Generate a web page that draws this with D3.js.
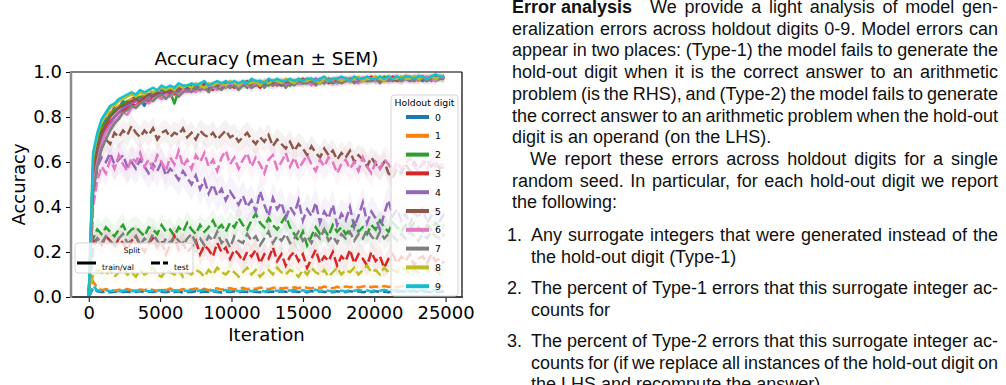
<!DOCTYPE html>
<head>
    <meta charset="utf-8">
    <script src="https://d3js.org/d3.v7.min.js"></script>
    <style>
        body { margin: 0; background: #fff; }
        svg { display: block; }
    </style>
</head>

<body>
    <svg width="1006" height="385"></svg>

    <script>
        // ---- data: accuracy logged every 300 iterations, one array per holdout digit ----
        const digits = ["0", "1", "2", "3", "4", "5", "6", "7", "8", "9"]
        const colors = ["#1f77b4", "#ff7f0e", "#2ca02c", "#d62728", "#9467bd",
            "#8c564b", "#e377c2", "#7f7f7f", "#bcbd22", "#17becf"]
        const logEvery = 300
        const xTicks = [0, 5000, 10000, 15000, 20000, 25000]
        const yTicks = [0, 0.2, 0.4, 0.6, 0.8, 1.0]

        const train0 = [0.00,0.58,0.69,0.75,0.79,0.81,0.84,0.84,0.87,0.86,0.88,0.89,
            0.88,0.85,0.89,0.91,0.90,0.92,0.91,0.92,0.93,0.91,0.93,0.92,
            0.94,0.93,0.93,0.94,0.92,0.94,0.95,0.93,0.94,0.95,0.94,0.95,
            0.94,0.95,0.93,0.95,0.96,0.94,0.95,0.96,0.95,0.94,0.96,0.95,
            0.96,0.95,0.96,0.95,0.96,0.97,0.95,0.96,0.96,0.97,0.95,0.96,
            0.97,0.96,0.97,0.96,0.97,0.96,0.97,0.96,0.97,0.97,0.96,0.97,
            0.98,0.96,0.97,0.97,0.98,0.97,0.96,0.97,0.98,0.97,0.98,0.97]
        const train1 = [0.00,0.56,0.68,0.74,0.78,0.82,0.83,0.85,0.85,0.87,0.88,0.87,
            0.89,0.90,0.90,0.89,0.91,0.91,0.92,0.90,0.92,0.93,0.92,0.93,
            0.93,0.94,0.92,0.94,0.93,0.94,0.94,0.95,0.93,0.94,0.95,0.94,
            0.95,0.94,0.95,0.96,0.94,0.95,0.95,0.96,0.94,0.96,0.95,0.96,
            0.95,0.96,0.97,0.95,0.96,0.96,0.95,0.97,0.96,0.96,0.97,0.95,
            0.96,0.97,0.96,0.97,0.96,0.97,0.97,0.96,0.98,0.96,0.97,0.97,
            0.96,0.97,0.98,0.97,0.97,0.96,0.98,0.97,0.97,0.98,0.97,0.98]
        const train2 = [0.00,0.57,0.68,0.76,0.78,0.81,0.83,0.84,0.86,0.87,0.86,0.88,
            0.89,0.88,0.90,0.91,0.89,0.91,0.92,0.91,0.86,0.92,0.93,0.92,
            0.93,0.92,0.94,0.93,0.94,0.93,0.95,0.94,0.93,0.95,0.94,0.94,
            0.95,0.93,0.95,0.94,0.96,0.95,0.94,0.96,0.95,0.95,0.96,0.94,
            0.96,0.95,0.95,0.96,0.97,0.95,0.96,0.95,0.97,0.96,0.96,0.97,
            0.96,0.97,0.96,0.96,0.97,0.97,0.96,0.97,0.96,0.98,0.97,0.96,
            0.97,0.98,0.97,0.96,0.97,0.98,0.97,0.97,0.98,0.96,0.97,0.98]
        const train3 = [0.00,0.52,0.64,0.71,0.75,0.78,0.80,0.82,0.83,0.84,0.86,0.85,
            0.87,0.88,0.87,0.89,0.90,0.88,0.90,0.91,0.90,0.92,0.91,0.93,
            0.92,0.93,0.92,0.94,0.93,0.92,0.94,0.93,0.95,0.94,0.93,0.95,
            0.94,0.95,0.94,0.95,0.93,0.96,0.95,0.94,0.96,0.95,0.96,0.95,
            0.95,0.96,0.95,0.97,0.96,0.95,0.96,0.97,0.96,0.95,0.97,0.96,
            0.97,0.96,0.97,0.96,0.96,0.97,0.98,0.96,0.97,0.96,0.97,0.98,
            0.97,0.96,0.98,0.97,0.97,0.98,0.97,0.96,0.98,0.97,0.98,0.97]
        const train4 = [0.00,0.50,0.62,0.70,0.74,0.77,0.80,0.82,0.84,0.85,0.86,0.87,
            0.88,0.87,0.89,0.90,0.89,0.91,0.90,0.92,0.91,0.92,0.93,0.92,
            0.93,0.94,0.92,0.93,0.94,0.95,0.93,0.94,0.95,0.93,0.95,0.94,
            0.95,0.94,0.96,0.95,0.94,0.95,0.96,0.95,0.94,0.96,0.95,0.96,
            0.96,0.95,0.96,0.96,0.95,0.97,0.96,0.96,0.97,0.95,0.96,0.97,
            0.96,0.97,0.97,0.96,0.97,0.96,0.97,0.98,0.96,0.97,0.97,0.96,
            0.98,0.97,0.97,0.96,0.98,0.97,0.97,0.98,0.96,0.97,0.98,0.97]
        const train5 = [0.00,0.55,0.66,0.73,0.77,0.80,0.82,0.84,0.85,0.86,0.87,0.88,
            0.87,0.89,0.90,0.89,0.91,0.90,0.91,0.92,0.91,0.93,0.92,0.92,
            0.94,0.93,0.93,0.95,0.92,0.94,0.94,0.93,0.95,0.94,0.95,0.93,
            0.95,0.96,0.94,0.95,0.95,0.94,0.96,0.95,0.96,0.94,0.95,0.96,
            0.95,0.96,0.97,0.96,0.95,0.96,0.96,0.97,0.95,0.96,0.97,0.96,
            0.97,0.96,0.96,0.97,0.97,0.96,0.97,0.97,0.96,0.97,0.98,0.97,
            0.96,0.97,0.98,0.97,0.96,0.97,0.98,0.97,0.97,0.98,0.97,0.98]
        const train6 = [0.00,0.48,0.60,0.68,0.73,0.76,0.78,0.80,0.82,0.81,0.84,0.85,
            0.86,0.87,0.86,0.88,0.89,0.88,0.90,0.89,0.91,0.90,0.92,0.91,
            0.92,0.91,0.93,0.92,0.94,0.93,0.92,0.94,0.93,0.95,0.94,0.93,
            0.95,0.94,0.93,0.95,0.94,0.96,0.95,0.94,0.95,0.96,0.94,0.95,
            0.96,0.95,0.95,0.96,0.94,0.96,0.97,0.95,0.96,0.96,0.95,0.97,
            0.96,0.96,0.97,0.95,0.97,0.96,0.97,0.96,0.97,0.97,0.96,0.97,
            0.97,0.96,0.97,0.98,0.96,0.97,0.97,0.98,0.97,0.96,0.98,0.97]
        const train7 = [0.00,0.46,0.58,0.66,0.70,0.74,0.77,0.79,0.82,0.83,0.85,0.84,
            0.86,0.87,0.88,0.87,0.89,0.90,0.88,0.90,0.91,0.89,0.91,0.92,
            0.91,0.93,0.92,0.93,0.91,0.94,0.93,0.92,0.94,0.93,0.94,0.92,
            0.94,0.95,0.93,0.94,0.95,0.93,0.95,0.94,0.95,0.96,0.93,0.95,
            0.94,0.96,0.95,0.95,0.96,0.94,0.96,0.95,0.97,0.95,0.96,0.95,
            0.96,0.97,0.95,0.96,0.97,0.96,0.96,0.97,0.95,0.97,0.96,0.97,
            0.97,0.96,0.97,0.97,0.96,0.98,0.97,0.96,0.97,0.98,0.97,0.97]
        const train8 = [0.00,0.62,0.72,0.78,0.81,0.84,0.85,0.87,0.88,0.89,0.90,0.89,
            0.91,0.90,0.92,0.91,0.92,0.93,0.92,0.93,0.92,0.94,0.93,0.94,
            0.93,0.95,0.94,0.93,0.95,0.94,0.95,0.95,0.94,0.96,0.95,0.94,
            0.96,0.95,0.95,0.96,0.94,0.96,0.95,0.96,0.96,0.95,0.97,0.96,
            0.95,0.97,0.96,0.96,0.97,0.96,0.95,0.97,0.96,0.97,0.97,0.96,
            0.97,0.96,0.97,0.98,0.96,0.97,0.97,0.98,0.97,0.96,0.98,0.97,
            0.97,0.98,0.97,0.97,0.98,0.97,0.98,0.97,0.98,0.97,0.98,0.98]
        const train9 = [0.00,0.64,0.73,0.79,0.82,0.85,0.86,0.88,0.89,0.90,0.91,0.90,
            0.92,0.91,0.92,0.93,0.92,0.94,0.93,0.94,0.93,0.95,0.94,0.94,
            0.95,0.94,0.95,0.96,0.94,0.95,0.96,0.95,0.96,0.95,0.96,0.95,
            0.96,0.95,0.97,0.96,0.96,0.95,0.97,0.96,0.97,0.96,0.96,0.97,
            0.96,0.97,0.96,0.97,0.97,0.96,0.97,0.98,0.96,0.97,0.97,0.98,
            0.97,0.96,0.98,0.97,0.97,0.98,0.97,0.97,0.98,0.97,0.98,0.97,
            0.98,0.97,0.98,0.98,0.97,0.98,0.98,0.97,0.98,0.99,0.98,0.98]

        const test0 = [0.00,0.04,0.025,0.022,0.024,0.021,0.023,0.026,0.022,0.024,0.02,0.023,
            0.025,0.021,0.024,0.022,0.026,0.023,0.021,0.025,0.022,0.024,0.02,0.023,
            0.022,0.025,0.021,0.024,0.023,0.026,0.022,0.02,0.024,0.022,0.025,0.021,
            0.024,0.022,0.026,0.023,0.021,0.025,0.022,0.024,0.021,0.025,0.023,0.022,
            0.025,0.022,0.024,0.021,0.026,0.023,0.025,0.022,0.024,0.021,0.025,0.023,
            0.022,0.026,0.023,0.025,0.021,0.024,0.022,0.026,0.023,0.024,0.021,0.025,
            0.023,0.025,0.022,0.024,0.026,0.022,0.025,0.023,0.021,0.024,0.022,0.025]
        const test1 = [0.00,0.07,0.04,0.03,0.035,0.03,0.028,0.032,0.03,0.035,0.03,0.028,
            0.033,0.03,0.036,0.031,0.028,0.034,0.03,0.037,0.032,0.029,0.035,0.031,
            0.034,0.038,0.032,0.036,0.03,0.035,0.039,0.033,0.036,0.04,0.034,0.037,
            0.041,0.035,0.039,0.036,0.042,0.038,0.035,0.04,0.044,0.038,0.041,0.037,
            0.043,0.039,0.045,0.041,0.038,0.044,0.04,0.046,0.042,0.039,0.045,0.041,
            0.047,0.043,0.048,0.042,0.046,0.05,0.044,0.047,0.043,0.049,0.045,0.048,
            0.044,0.049,0.046,0.05,0.045,0.048,0.051,0.046,0.049,0.045,0.05,0.047]
        const test2 = [0.00,0.26,0.30,0.28,0.31,0.29,0.27,0.30,0.32,0.28,0.30,0.31,
            0.29,0.27,0.31,0.30,0.28,0.32,0.29,0.30,0.27,0.31,0.29,0.33,
            0.30,0.28,0.32,0.29,0.31,0.34,0.30,0.32,0.29,0.33,0.31,0.35,
            0.32,0.30,0.34,0.37,0.33,0.31,0.35,0.32,0.30,0.33,0.36,0.31,
            0.28,0.25,0.29,0.23,0.27,0.31,0.28,0.30,0.27,0.32,0.29,0.31,
            0.28,0.30,0.33,0.29,0.31,0.28,0.32,0.30,0.34,0.31,0.29,0.33,
            0.31,0.29,0.32,0.30,0.33,0.31,0.29,0.32,0.30,0.33,0.31,0.32]
        const test3 = [0.00,0.24,0.26,0.23,0.27,0.25,0.22,0.26,0.24,0.21,0.25,0.27,
            0.23,0.20,0.24,0.26,0.22,0.25,0.19,0.23,0.27,0.21,0.24,0.20,
            0.22,0.25,0.19,0.23,0.21,0.18,0.24,0.20,0.22,0.17,0.21,0.19,
            0.16,0.20,0.18,0.21,0.15,0.19,0.17,0.22,0.16,0.19,0.14,0.18,
            0.20,0.16,0.19,0.13,0.17,0.21,0.15,0.18,0.16,0.20,0.14,0.18,
            0.16,0.21,0.15,0.19,0.17,0.14,0.20,0.16,0.18,0.13,0.17,0.19,
            0.15,0.18,0.16,0.19,0.14,0.17,0.18,0.15,0.19,0.16,0.17,0.15]
        const test4 = [0.00,0.45,0.58,0.62,0.60,0.64,0.59,0.61,0.63,0.58,0.60,0.57,
            0.61,0.58,0.55,0.59,0.56,0.60,0.54,0.57,0.55,0.52,0.56,0.53,
            0.50,0.54,0.48,0.52,0.46,0.50,0.45,0.48,0.43,0.47,0.44,0.41,
            0.45,0.40,0.43,0.38,0.47,0.41,0.36,0.44,0.39,0.42,0.35,0.40,
            0.37,0.43,0.34,0.39,0.36,0.42,0.33,0.38,0.35,0.41,0.32,0.37,
            0.34,0.40,0.31,0.36,0.42,0.33,0.38,0.35,0.30,0.37,0.43,0.36,
            0.39,0.34,0.37,0.32,0.38,0.35,0.40,0.33,0.36,0.39,0.34,0.37]
        const test5 = [0.00,0.42,0.60,0.66,0.70,0.68,0.73,0.71,0.74,0.72,0.76,0.73,
            0.71,0.74,0.72,0.75,0.70,0.73,0.74,0.71,0.73,0.72,0.75,0.71,
            0.73,0.70,0.74,0.72,0.71,0.73,0.70,0.72,0.74,0.71,0.72,0.69,
            0.71,0.73,0.70,0.68,0.71,0.69,0.72,0.67,0.70,0.68,0.66,0.69,
            0.65,0.68,0.66,0.63,0.67,0.64,0.62,0.66,0.63,0.65,0.61,0.64,
            0.62,0.65,0.60,0.63,0.61,0.58,0.62,0.59,0.57,0.60,0.55,0.53,
            0.57,0.55,0.59,0.56,0.60,0.57,0.59,0.61,0.58,0.60,0.57,0.59]
        const test6 = [0.00,0.40,0.52,0.58,0.55,0.61,0.57,0.63,0.59,0.56,0.62,0.60,
            0.64,0.58,0.61,0.57,0.63,0.60,0.56,0.62,0.59,0.65,0.58,0.61,
            0.57,0.63,0.60,0.64,0.58,0.61,0.56,0.62,0.65,0.59,0.62,0.57,
            0.61,0.64,0.58,0.62,0.59,0.55,0.61,0.63,0.57,0.60,0.64,0.58,
            0.62,0.57,0.60,0.63,0.59,0.56,0.61,0.58,0.62,0.60,0.55,0.59,
            0.61,0.57,0.60,0.56,0.62,0.58,0.55,0.60,0.57,0.61,0.59,0.56,
            0.60,0.57,0.59,0.62,0.58,0.56,0.60,0.57,0.61,0.58,0.60,0.57]
        const test7 = [0.00,0.22,0.26,0.24,0.27,0.25,0.23,0.26,0.28,0.24,0.25,0.27,
            0.23,0.26,0.24,0.28,0.25,0.22,0.26,0.24,0.27,0.25,0.23,0.26,
            0.28,0.24,0.26,0.23,0.27,0.25,0.29,0.24,0.26,0.22,0.27,0.25,
            0.24,0.28,0.25,0.27,0.23,0.26,0.29,0.24,0.27,0.25,0.28,0.24,
            0.26,0.29,0.25,0.27,0.24,0.28,0.26,0.30,0.25,0.27,0.24,0.28,
            0.26,0.29,0.25,0.28,0.26,0.30,0.27,0.25,0.29,0.26,0.28,0.27,
            0.25,0.28,0.26,0.29,0.27,0.25,0.28,0.26,0.29,0.27,0.26,0.28]
        const test8 = [0.00,0.10,0.12,0.11,0.10,0.12,0.09,0.11,0.13,0.10,0.11,0.09,
            0.12,0.10,0.11,0.13,0.10,0.09,0.12,0.11,0.10,0.12,0.09,0.11,
            0.10,0.12,0.11,0.09,0.12,0.10,0.13,0.11,0.10,0.12,0.11,0.09,
            0.11,0.13,0.10,0.12,0.09,0.11,0.12,0.10,0.13,0.11,0.10,0.12,
            0.11,0.09,0.12,0.10,0.13,0.11,0.10,0.12,0.09,0.11,0.13,0.10,
            0.12,0.11,0.13,0.10,0.12,0.14,0.11,0.12,0.10,0.13,0.11,0.12,
            0.11,0.13,0.12,0.10,0.12,0.11,0.13,0.12,0.11,0.12,0.10,0.12]
        const test9 = [0.00,0.05,0.03,0.027,0.03,0.026,0.029,0.025,0.028,0.031,0.026,0.029,
            0.027,0.03,0.025,0.029,0.027,0.031,0.026,0.028,0.03,0.025,0.029,0.027,
            0.03,0.026,0.029,0.032,0.027,0.03,0.025,0.028,0.031,0.027,0.029,0.026,
            0.029,0.031,0.026,0.03,0.028,0.025,0.029,0.032,0.027,0.03,0.026,0.029,
            0.031,0.027,0.03,0.026,0.029,0.032,0.027,0.03,0.028,0.025,0.03,0.028,
            0.026,0.03,0.028,0.031,0.027,0.029,0.026,0.03,0.028,0.032,0.027,0.029,
            0.03,0.027,0.029,0.026,0.031,0.028,0.03,0.027,0.029,0.031,0.028,0.03]

        // standard error of the mean, per holdout digit
        const trainSem = [0.015, 0.015, 0.015, 0.018, 0.018, 0.015, 0.02, 0.02, 0.012, 0.012]
        const testSem = [0.006, 0.008, 0.05, 0.05, 0.07, 0.05, 0.06, 0.05, 0.03, 0.006]

        const trainAcc = [train0, train1, train2, train3, train4, train5, train6, train7, train8, train9]
        const testAcc = [test0, test1, test2, test3, test4, test5, test6, test7, test8, test9]

        // ---- chart ----
        let svg = d3.select("svg")
        const plotFont = "'DejaVu Sans', sans-serif"

        const x = d3.scaleLinear().domain([-1245, 26150]).range([71, 462])
        const y = d3.scaleLinear().domain([0, 1]).range([297, 72])

        svg.append("clipPath").attr("id", "plotclip")
            .append("rect").attr("x", 71).attr("y", 72).attr("width", 391).attr("height", 225)

        const plot = svg.append("g").attr("clip-path", "url(#plotclip)")

        const band = sem => d3.area()
            .x((d, i) => x(i * logEvery))
            .y0(d => y(d - sem))
            .y1(d => y(d + sem))
        const line = d3.line()
            .x((d, i) => x(i * logEvery))
            .y(d => y(d))

        // SEM shading underneath every line
        digits.forEach((dg, k) => {
            plot.append("path").attr("d", band(trainSem[k])(trainAcc[k]))
                .attr("fill", colors[k]).attr("opacity", 0.08)
            plot.append("path").attr("d", band(testSem[k])(testAcc[k]))
                .attr("fill", colors[k]).attr("opacity", 0.08)
        })
        digits.forEach((dg, k) => {
            plot.append("path").attr("d", line(trainAcc[k]))
                .attr("fill", "none").attr("stroke", colors[k]).attr("stroke-width", 2.5)
                .attr("stroke-linejoin", "round")
            plot.append("path").attr("d", line(testAcc[k]))
                .attr("fill", "none").attr("stroke", colors[k]).attr("stroke-width", 2.5)
                .attr("stroke-dasharray", "9.25,4")
        })

        // axes
        const yAxis = svg.append("g").attr("transform", "translate(71,0)")
            .call(d3.axisLeft(y).tickValues(yTicks).tickFormat(d3.format(".1f")).tickSize(5).tickPadding(4))
        const xAxis = svg.append("g").attr("transform", "translate(0,297)")
            .call(d3.axisBottom(x).tickValues(xTicks).tickFormat(d3.format("d")).tickSize(5).tickPadding(4))
        for (const ax of [xAxis, yAxis]) {
            ax.select(".domain").remove()
            ax.selectAll("text").attr("font-family", plotFont).attr("font-size", 18).attr("fill", "#000")
            ax.selectAll("line").attr("stroke", "#000").attr("stroke-width", 1)
        }

        // spines
        svg.append("line").attr("x1", 71).attr("x2", 462).attr("y1", 72).attr("y2", 72)
            .attr("stroke", "#000").attr("stroke-width", 1.2)
        svg.append("line").attr("x1", 462).attr("x2", 462).attr("y1", 72).attr("y2", 297)
            .attr("stroke", "#000").attr("stroke-width", 1.2)
        svg.append("line").attr("x1", 70).attr("x2", 463).attr("y1", 297).attr("y2", 297)
            .attr("stroke", "#444").attr("stroke-width", 2)
        svg.append("line").attr("x1", 71).attr("x2", 71).attr("y1", 71).attr("y2", 298)
            .attr("stroke", "#8a8a8a").attr("stroke-width", 2.5)

        svg.append("text").attr("x", 266.5).attr("y", 65).attr("text-anchor", "middle")
            .attr("font-family", plotFont).attr("font-size", 18.5).text("Accuracy (mean ± SEM)")
        svg.append("text").attr("x", 266.5).attr("y", 341).attr("text-anchor", "middle")
            .attr("font-family", plotFont).attr("font-size", 18).text("Iteration")
        svg.append("text").attr("transform", "translate(25,184.5) rotate(-90)").attr("text-anchor", "middle")
            .attr("font-family", plotFont).attr("font-size", 18).text("Accuracy")

        // legend: holdout digit
        const leg = svg.append("g")
        leg.append("rect").attr("x", 391).attr("y", 95).attr("width", 67).attr("height", 201)
            .attr("rx", 3).attr("fill", "#fff").attr("fill-opacity", 0.8)
            .attr("stroke", "#d6d6d6").attr("stroke-width", 1)
        leg.append("text").attr("x", 424.5).attr("y", 105.5).attr("text-anchor", "middle")
            .attr("font-family", plotFont).attr("font-size", 9.3).text("Holdout digit")
        digits.forEach((dg, k) => {
            const ly = 117 + k * 18.8
            leg.append("line").attr("x1", 406).attr("x2", 429).attr("y1", ly).attr("y2", ly)
                .attr("stroke", colors[k]).attr("stroke-width", 4)
            leg.append("text").attr("x", 435).attr("y", ly + 3.5)
                .attr("font-family", plotFont).attr("font-size", 9.3).text(dg)
        })

        // legend: split
        const leg2 = svg.append("g")
        leg2.append("rect").attr("x", 75).attr("y", 243).attr("width", 118).attr("height", 30)
            .attr("rx", 3).attr("fill", "#fff").attr("fill-opacity", 0.8)
            .attr("stroke", "#d6d6d6").attr("stroke-width", 1)
        leg2.append("text").attr("x", 132).attr("y", 252.5).attr("text-anchor", "middle")
            .attr("font-family", plotFont).attr("font-size", 7.5).text("Split")
        leg2.append("line").attr("x1", 77).attr("x2", 96).attr("y1", 263).attr("y2", 263)
            .attr("stroke", "#000").attr("stroke-width", 3)
        leg2.append("text").attr("x", 102).attr("y", 270)
            .attr("font-family", plotFont).attr("font-size", 7.7).text("train/val")
        leg2.append("line").attr("x1", 151).attr("x2", 168).attr("y1", 263).attr("y2", 263)
            .attr("stroke", "#000").attr("stroke-width", 3).attr("stroke-dasharray", "9,3")
        leg2.append("text").attr("x", 174).attr("y", 270)
            .attr("font-family", plotFont).attr("font-size", 7.7).text("test")

        // ---- body text to the right of the figure ----
        const textFont = "'Liberation Sans', Arial, sans-serif"
        const textSize = 18
        const colL = 512, colR = 998

        function putLine(str, x0, yb, justify, bold) {
            const t = svg.append("text").attr("y", yb)
                .attr("font-family", textFont).attr("font-size", textSize).attr("fill", "#111")
            let start = x0
            if (bold) {
                const b = t.append("tspan").attr("x", x0).attr("font-weight", "bold").text(bold)
                start = x0 + b.node().getComputedTextLength() + textSize
            }
            const words = str.split(" ")
            const spans = words.map(w => t.append("tspan").text(w))
            const widths = spans.map(s => s.node().getComputedTextLength())
            const total = d3.sum(widths)
            const space = textSize * 0.278
            const gap = justify && words.length > 1 ? (colR - start - total) / (words.length - 1) : space
            let cx = start
            spans.forEach((s, i) => { s.attr("x", cx); cx += widths[i] + gap })
            return t
        }

        const para1 = [
            "We provide a light analysis of model gen-",
            "eralization errors across holdout digits 0-9. Model errors can",
            "appear in two places: (Type-1) the model fails to generate the",
            "hold-out digit when it is the correct answer to an arithmetic",
            "problem (is the RHS), and (Type-2) the model fails to generate",
            "the correct answer to an arithmetic problem when the hold-out",
            "digit is an operand (on the LHS)."
        ]
        const para2 = [
            "We report these errors across holdout digits for a single",
            "random seed. In particular, for each hold-out digit we report",
            "the following:"
        ]
        const items = [
            ["Any surrogate integers that were generated instead of the", "the hold-out digit (Type-1)"],
            ["The percent of Type-1 errors that this surrogate integer ac-", "counts for"],
            ["The percent of Type-2 errors that this surrogate integer ac-",
                "counts for (if we replace all instances of the hold-out digit on",
                "the LHS and recompute the answer)."]
        ]
        const lead = 21.7
        let yb = 13
        para1.forEach((s, i) => {
            putLine(s, colL, yb, i < para1.length - 1, i === 0 ? "Error analysis" : null)
            yb += lead
        })
        para2.forEach((s, i) => {
            putLine(s, i === 0 ? colL + textSize : colL, yb, i < para2.length - 1, null)
            yb += lead
        })
        yb += 11
        const itemX = 531
        items.forEach((lines, n) => {
            svg.append("text").attr("x", itemX - 9).attr("y", yb).attr("text-anchor", "end")
                .attr("font-family", textFont).attr("font-size", textSize).attr("fill", "#111")
                .text((n + 1) + ".")
            lines.forEach((s, i) => {
                putLine(s, itemX, yb, i < lines.length - 1, null)
                yb += lead
            })
            yb += 9.5
        })
    </script>
</body>
